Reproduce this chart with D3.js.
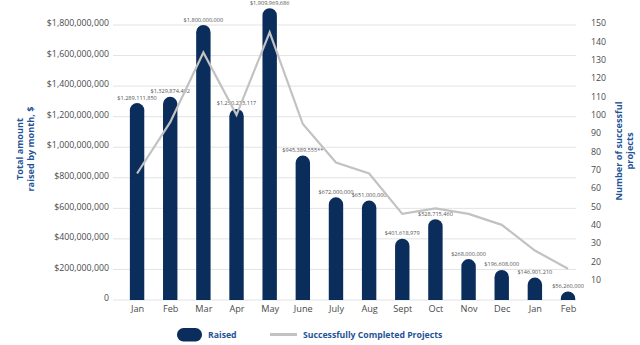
<!DOCTYPE html>
<html>
<head>
<meta charset="utf-8">
<script src="https://cdn.jsdelivr.net/npm/d3@7"></script>
<style>
  html, body { margin: 0; padding: 0; background: #fff; }
  svg { display: block; font-family: "Open Sans", sans-serif; }
</style>
</head>
<body>
<svg id="chart" width="640" height="345"></svg>
<script>
// Monthly fundraising totals and successful project counts
const months = ["Jan", "Feb", "Mar", "Apr", "May", "June", "July", "Aug", "Sept", "Oct", "Nov", "Dec", "Jan", "Feb"];
const raised = [1289111850, 1329874492, 1800000000, 1250273117, 1909969686, 945389555, 672000000, 651000000, 401618979, 528715460, 268000000, 196608000, 146901210, 56260000];
const raisedNotes = ["", "", "", "", "", "**", "", "", "", "", "", "", "", ""];
const projects = [69, 97, 135, 101, 146, 96, 75, 69, 47, 50, 47, 41, 27, 17];
const leftTicks = [0, 200000000, 400000000, 600000000, 800000000, 1000000000, 1200000000, 1400000000, 1600000000, 1800000000];
const rightTicks = [10, 20, 30, 40, 50, 60, 70, 80, 90, 100, 110, 120, 130, 140, 150];
const legendItems = ["Raised", "Successfully Completed Projects"];

const navy = "#0b2d5b";
const titleBlue = "#1f5497";
const lineGrey = "#c2c2c2";
const textGrey = "#4a4a4a";

const svg = d3.select("#chart");
const plotLeft = 113, plotRight = 576, plotTop = 25, plotBottom = 300;

const idx = months.map((m, i) => i);
const x = d3.scalePoint().domain(idx).range([120.5, 584.6]).padding(0.5);
const yL = d3.scaleLinear().domain([0, 1800000000]).range([plotBottom, plotTop]);
const yR = d3.scaleLinear().domain([0, 150]).range([plotBottom, plotTop]);

// Horizontal gridlines
svg.append("g")
  .selectAll("line")
  .data(leftTicks)
  .join("line")
  .attr("x1", plotLeft).attr("x2", plotRight)
  .attr("y1", d => yL(d)).attr("y2", d => yL(d))
  .attr("stroke", "#e3e3e3").attr("stroke-width", 1);

// Left axis
const fmtMoney = d => d === 0 ? "0" : d3.format("$,")(d);
const leftAxis = svg.append("g")
  .attr("transform", `translate(${plotLeft - 4},0)`)
  .call(d3.axisLeft(yL).tickValues(leftTicks).tickFormat(fmtMoney).tickSize(0).tickPadding(0));
leftAxis.select(".domain").remove();
leftAxis.selectAll("text")
  .attr("font-size", 8.8).attr("fill", textGrey)
  .attr("font-family", "'Open Sans', sans-serif")
  .attr("dy", "0.08em");

// Right axis
const rightAxis = svg.append("g")
  .attr("transform", `translate(591,0)`)
  .call(d3.axisRight(yR).tickValues(rightTicks).tickSize(0).tickPadding(0));
rightAxis.select(".domain").remove();
rightAxis.selectAll("text")
  .attr("font-size", 8.8).attr("fill", textGrey)
  .attr("font-family", "'Open Sans', sans-serif")
  .attr("dy", "0.08em");

// Bottom month labels
const bottomAxis = svg.append("g")
  .attr("transform", `translate(0,${plotBottom + 5})`)
  .call(d3.axisBottom(x).tickFormat(i => months[i]).tickSize(0).tickPadding(0));
bottomAxis.select(".domain").remove();
bottomAxis.selectAll("text")
  .attr("font-size", 9.2).attr("fill", textGrey)
  .attr("font-family", "'Open Sans', sans-serif");

// Bars with rounded tops
const barW = 14.4;
function barPath(i) {
  const cx = x(i), x0 = cx - barW / 2, x1 = cx + barW / 2;
  const top = yL(raised[i]), base = yL(0);
  const r = Math.min(barW / 2, base - top);
  return `M${x0},${base}L${x0},${top + r}A${barW / 2},${r} 0 0 1 ${x1},${top + r}L${x1},${base}Z`;
}
svg.append("g")
  .selectAll("path")
  .data(idx)
  .join("path")
  .attr("d", barPath)
  .attr("fill", navy);

// Value labels above bars
svg.append("g")
  .selectAll("text")
  .data(idx)
  .join("text")
  .attr("x", i => x(i))
  .attr("y", i => yL(raised[i]) - 3.5)
  .attr("text-anchor", "middle")
  .attr("font-size", 5.6)
  .attr("fill", "#555")
  .text(i => d3.format("$,")(raised[i]) + raisedNotes[i]);

// Successful projects line
const line = d3.line().x(i => x(i)).y(i => yR(projects[i]));
svg.append("path")
  .datum(idx)
  .attr("d", line)
  .attr("fill", "none")
  .attr("stroke", lineGrey)
  .attr("stroke-width", 2.2)
  .attr("stroke-linejoin", "miter");

// Axis titles
const leftTitle = svg.append("text")
  .attr("transform", "translate(25,149) rotate(-90)")
  .attr("text-anchor", "middle")
  .attr("font-size", 9.2).attr("font-weight", 700).attr("fill", titleBlue);
leftTitle.append("tspan").attr("x", 0).attr("dy", "-0.25em").text("Total amount");
leftTitle.append("tspan").attr("x", 0).attr("dy", "1.25em").text("raised by month, $");

const rightTitle = svg.append("text")
  .attr("transform", "translate(624,151) rotate(-90)")
  .attr("text-anchor", "middle")
  .attr("font-size", 9.2).attr("font-weight", 700).attr("fill", titleBlue);
rightTitle.append("tspan").attr("x", 0).attr("dy", "-0.25em").text("Number of successful");
rightTitle.append("tspan").attr("x", 0).attr("dy", "1.25em").text("projects");

// Legend
const legend = svg.append("g");
legend.append("rect")
  .attr("x", 177).attr("y", 328).attr("width", 25).attr("height", 13.5)
  .attr("rx", 6.5).attr("fill", navy);
legend.append("text")
  .attr("x", 208).attr("y", 335).attr("dy", "0.35em")
  .attr("font-size", 8.7).attr("font-weight", 700).attr("fill", titleBlue)
  .text(legendItems[0]);
legend.append("line")
  .attr("x1", 270).attr("x2", 297).attr("y1", 334.5).attr("y2", 334.5)
  .attr("stroke", lineGrey).attr("stroke-width", 3);
legend.append("text")
  .attr("x", 303).attr("y", 335).attr("dy", "0.35em")
  .attr("font-size", 8.7).attr("font-weight", 700).attr("fill", titleBlue)
  .text(legendItems[1]);
</script>
</body>
</html>
